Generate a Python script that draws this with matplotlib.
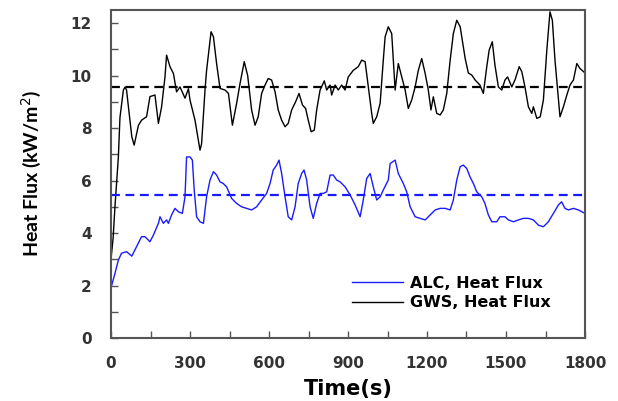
import matplotlib
matplotlib.use("Agg")
import matplotlib.pyplot as plt
from matplotlib.ticker import MultipleLocator

# GWS heat flux (black)
gws_t = [0, 8, 15, 22, 28, 34, 47, 53, 59, 72,
         79, 88, 104, 116, 135, 148, 167, 180, 192, 205,
         211, 224, 237, 249, 262, 281, 294, 300, 319, 338,
         344, 357, 363, 380, 389, 401, 414, 433, 446, 461,
         477, 490, 506, 519, 534, 547, 559, 572, 585, 597,
         610, 623, 635, 648, 661, 673, 686, 701, 714, 727,
         739, 749, 760, 772, 781, 794, 810, 819, 832, 838,
         851, 863, 876, 889, 901, 920, 939, 952, 965, 977,
         990, 996, 1009, 1022, 1034, 1041, 1053, 1066, 1079, 1091,
         1104, 1117, 1129, 1142, 1155, 1167, 1180, 1193, 1205, 1215,
         1224, 1237, 1250, 1262, 1275, 1288, 1300, 1313, 1326, 1332,
         1345, 1357, 1370, 1383, 1401, 1414, 1427, 1436, 1448, 1458,
         1471, 1484, 1496, 1506, 1522, 1534, 1550, 1560, 1572, 1585,
         1598, 1604, 1617, 1630, 1642, 1655, 1667, 1676, 1686, 1697,
         1705, 1718, 1731, 1743, 1756, 1769, 1781, 1794, 1800]
gws_v = [3.0, 3.8, 5.0, 6.0, 6.9, 8.4, 9.45, 9.56, 9.45, 8.3,
         7.67, 7.35, 8.1, 8.3, 8.43, 9.2, 9.26, 8.18, 8.8, 9.95,
         10.78, 10.34, 10.08, 9.38, 9.57, 9.14, 9.5, 9.07, 8.3, 7.16,
         7.4, 9.45, 10.2, 11.67, 11.48, 10.46, 9.51, 9.45, 9.32, 8.11,
         8.94, 9.7, 10.53, 10.0, 8.69, 8.11, 8.43, 9.32, 9.64, 9.89,
         9.83, 9.38, 8.69, 8.3, 8.05, 8.18, 8.69, 9.0, 9.32, 8.88,
         8.75, 8.3, 7.86, 7.92, 8.69, 9.45, 9.8, 9.45, 9.64, 9.26,
         9.64, 9.45, 9.64, 9.45, 9.95, 10.2, 10.34, 10.59, 10.53, 9.57,
         8.56, 8.18, 8.43, 8.94, 10.59, 11.48, 11.86, 11.6, 9.45, 10.46,
         9.95, 9.45, 8.75, 9.07, 9.57, 10.2, 10.65, 10.08, 9.45, 8.69,
         9.19, 8.56, 8.5, 8.69, 9.32, 10.59, 11.6, 12.11, 11.86, 11.48,
         10.65, 10.1, 10.02, 9.83, 9.64, 9.32, 10.34, 10.97, 11.29, 10.4,
         9.57, 9.45, 9.83, 9.95, 9.57, 9.83, 10.34, 10.15, 9.57, 8.81,
         8.56, 8.81, 8.37, 8.43, 9.07, 10.97, 12.43, 12.11, 10.59, 9.32,
         8.43, 8.81, 9.26, 9.64, 9.83, 10.46, 10.27, 10.15, 10.1]

# ALC heat flux (blue)
alc_t = [0, 3, 15, 28, 40, 59, 79, 97, 116, 129,
         148, 161, 180, 186, 199, 211, 218, 230, 243, 256,
         271, 281, 287, 300, 309, 316, 325, 338, 351, 363,
         376, 389, 401, 414, 426, 439, 458, 477, 496, 515,
         534, 553, 572, 591, 604, 616, 629, 638, 648, 661,
         673, 686, 699, 711, 724, 733, 743, 756, 768, 781,
         794, 806, 819, 832, 844, 857, 870, 889, 908, 927,
         946, 958, 971, 984, 996, 1009, 1022, 1034, 1053, 1060,
         1079, 1091, 1110, 1123, 1136, 1155, 1174, 1193, 1212, 1231,
         1250, 1269, 1288, 1300, 1313, 1326, 1338, 1351, 1363, 1376,
         1389, 1408, 1420, 1433, 1446, 1465, 1477, 1496, 1509, 1528,
         1547, 1566, 1585, 1604, 1623, 1642, 1661, 1680, 1699, 1711,
         1724, 1737, 1756, 1775, 1794, 1800]
alc_v = [1.95, 2.02, 2.46, 2.97, 3.23, 3.29, 3.12, 3.48, 3.86, 3.86,
         3.67, 3.92, 4.37, 4.62, 4.37, 4.5, 4.37, 4.69, 4.94, 4.81,
         4.75, 5.38, 6.9, 6.9, 6.78, 5.64, 4.62, 4.43, 4.37, 5.38,
         6.02, 6.34, 6.21, 5.95, 5.89, 5.76, 5.32, 5.13, 5.0, 4.94,
         4.88, 5.0, 5.26, 5.51, 5.89, 6.4, 6.59, 6.78, 6.27, 5.38,
         4.62, 4.5, 5.0, 5.89, 6.27, 6.4, 6.02, 5.0, 4.56, 5.13,
         5.51, 5.51, 5.57, 6.21, 6.21, 6.02, 5.95, 5.76, 5.45, 5.07,
         4.62, 5.26, 6.08, 6.27, 5.76, 5.26, 5.38, 5.64, 6.02, 6.65,
         6.78, 6.27, 5.89, 5.57, 5.0, 4.62, 4.56, 4.5, 4.69, 4.88,
         4.94, 4.94, 4.88, 5.26, 6.02, 6.53, 6.59, 6.46, 6.15, 5.89,
         5.57, 5.38, 5.13, 4.69, 4.43, 4.43, 4.62, 4.62, 4.5, 4.43,
         4.5, 4.56, 4.56, 4.5, 4.3, 4.24, 4.43, 4.75, 5.07, 5.19,
         4.94, 4.88, 4.94, 4.88, 4.78, 4.75]

gws_mean = 9.57
alc_mean = 5.45

labels = ["ALC, Heat Flux", "GWS, Heat Flux"]
x_ticks = [0, 300, 600, 900, 1200, 1500, 1800]
y_ticks = [0, 2, 4, 6, 8, 10, 12]

fig = plt.figure(figsize=(6.18, 4.01), dpi=100)
ax = fig.add_axes([111/618, 63/401, 474/618, 328/401])

blue = "#1a1aff"
l1, = ax.plot(alc_t, alc_v, color=blue, lw=1.0, label=labels[0])
l2, = ax.plot(gws_t, gws_v, color="black", lw=1.0, label=labels[1])
ax.axhline(gws_mean, color="black", lw=1.6, ls=(0, (4, 2.5)))
ax.axhline(alc_mean, color=blue, lw=1.6, ls=(0, (4, 2.5)))

ax.set_xlim(0, 1800)
ax.set_ylim(0, 12.5)
ax.set_xticks(x_ticks)
ax.set_yticks(y_ticks)
ax.xaxis.set_minor_locator(MultipleLocator(150))
ax.yaxis.set_minor_locator(MultipleLocator(1))
ax.tick_params(which="both", direction="in", length=5, width=1.0, color="#555555",
               top=False, right=False)
ax.tick_params(axis="x", which="major", pad=13)
ax.tick_params(axis="y", which="major", pad=14)
for lab in ax.get_xticklabels() + ax.get_yticklabels():
    lab.set_fontweight("bold")
    lab.set_fontsize(11)
    lab.set_color("#333333")
for sp in ax.spines.values():
    sp.set_color("#555555")
    sp.set_linewidth(1.5)

ax.set_xlabel("Time(s)", fontsize=15, fontweight="bold", labelpad=6)
ax.set_ylabel("Heat Flux (kW/m$^2$)", fontsize=14, fontweight="bold",
              family="Lato", labelpad=20)

ax.legend(handles=[l1, l2], loc="center left", bbox_to_anchor=(0.508, 0.137),
          frameon=False, borderpad=0, borderaxespad=0, handlelength=3.2,
          handletextpad=0.45, labelspacing=0.3,
          prop={"weight": "bold", "size": 11.5})

fig.savefig("out.png", dpi=100)
